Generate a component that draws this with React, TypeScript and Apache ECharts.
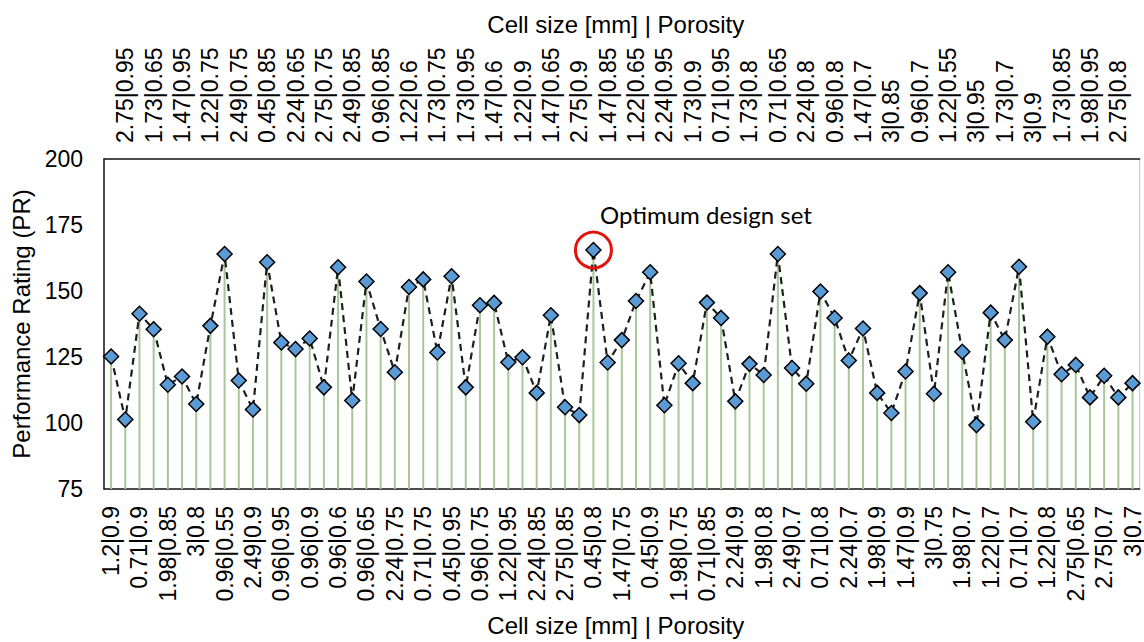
import React, { useEffect, useRef } from "react";
import * as echarts from "echarts";

const categories: string[] = [
  "1.2|0.9", "2.75|0.95", "0.71|0.9", "1.73|0.65", "1.98|0.85", "1.47|0.95", "3|0.8", "1.22|0.75",
  "0.96|0.55", "2.49|0.75", "2.49|0.9", "0.45|0.85", "0.96|0.95", "2.24|0.65", "0.96|0.9", "2.75|0.75",
  "0.96|0.6", "2.49|0.85", "0.96|0.65", "0.96|0.85", "2.24|0.75", "1.22|0.6", "0.71|0.75", "1.73|0.75",
  "0.45|0.95", "1.73|0.95", "0.96|0.75", "1.47|0.6", "1.22|0.95", "1.22|0.9", "2.24|0.85", "1.47|0.65",
  "2.75|0.85", "2.75|0.9", "0.45|0.8", "1.47|0.85", "1.47|0.75", "1.22|0.65", "0.45|0.9", "2.24|0.95",
  "1.98|0.75", "1.73|0.9", "0.71|0.85", "0.71|0.95", "2.24|0.9", "1.73|0.8", "1.98|0.8", "0.71|0.65",
  "2.49|0.7", "2.24|0.8", "0.71|0.8", "0.96|0.8", "2.24|0.7", "1.47|0.7", "1.98|0.9", "3|0.85",
  "1.47|0.9", "0.96|0.7", "3|0.75", "1.22|0.55", "1.98|0.7", "3|0.95", "1.22|0.7", "1.73|0.7",
  "0.71|0.7", "3|0.9", "1.22|0.8", "1.73|0.85", "2.75|0.65", "1.98|0.95", "2.75|0.7", "2.75|0.8",
  "3|0.7",
];

const performanceRating: number[] = [
  125.2, 101.3, 141.4, 135.5, 114.5, 117.6, 107.2, 136.8,
  164.0, 116.1, 105.1, 160.9, 130.5, 128.0, 132.0, 113.5,
  159.0, 108.5, 153.6, 135.6, 119.2, 151.5, 154.4, 126.7,
  155.6, 113.5, 144.6, 145.5, 123.0, 124.9, 111.4, 140.8,
  106.0, 103.0, 165.5, 122.9, 131.4, 146.2, 157.1, 106.7,
  122.6, 115.1, 145.6, 139.8, 108.2, 122.4, 118.2, 164.0,
  120.8, 114.9, 149.8, 139.8, 123.7, 135.8, 111.4, 103.8,
  119.5, 149.2, 111.1, 157.1, 127.0, 99.2, 141.8, 131.4,
  159.2, 100.5, 132.7, 118.5, 122.0, 109.7, 117.9, 109.7,
  115.1,
];

const yTicks = { min: 75, max: 200, interval: 25 };
const optimumIndex = 34;
const optimumLabel = "Optimum design set";
const axisTitle = "Cell size [mm] | Porosity";
const yTitle = "Performance Rating (PR)";

const FONT = "'Liberation Sans', Arial, sans-serif";

export default function App() {
  const ref = useRef<HTMLDivElement>(null);
  useEffect(() => {
    if (!ref.current) return;
    const chart = echarts.init(ref.current, null, { renderer: "svg" });
    const labelStyle = { fontSize: 23, color: "#000", fontFamily: FONT };
    const titleStyle = { fontSize: 24, color: "#000", fontFamily: FONT, padding: [0, 12, 0, 0] };
    chart.setOption({
      animation: false,
      backgroundColor: "#fff",
      grid: { left: 104, right: 1, top: 159, height: 333, show: true, borderColor: "#c8c8c8", borderWidth: 1 },
      xAxis: [
        {
          type: "category",
          data: categories,
          position: "bottom",
          boundaryGap: true,
          axisLine: { show: true, lineStyle: { color: "#1a1a1a", width: 1.5 } },
          axisTick: { show: false },
          axisLabel: {
            ...labelStyle,
            rotate: 90,
            margin: 17,
            align: "right",
            verticalAlign: "middle",
            interval: (i: number) => i % 2 === 0,
          },
          name: axisTitle,
          nameLocation: "middle",
          nameGap: 124,
          nameTextStyle: titleStyle,
        },
        {
          type: "category",
          data: categories,
          position: "top",
          boundaryGap: true,
          axisLine: { show: true, lineStyle: { color: "#1a1a1a", width: 1.5 } },
          axisTick: { show: false },
          axisLabel: {
            ...labelStyle,
            rotate: -90,
            margin: 16,
            align: "left",
            verticalAlign: "middle",
            interval: (i: number) => i % 2 === 1,
          },
          name: axisTitle,
          nameLocation: "middle",
          nameGap: 123,
          nameTextStyle: titleStyle,
        },
      ],
      yAxis: {
        type: "value",
        min: yTicks.min,
        max: yTicks.max,
        interval: yTicks.interval,
        axisLine: { show: true, lineStyle: { color: "#1a1a1a", width: 1.5 } },
        axisTick: { show: false },
        splitLine: { show: false },
        axisLabel: { ...labelStyle, margin: 21 },
        name: yTitle,
        nameLocation: "middle",
        nameGap: 68,
        nameTextStyle: { fontSize: 24, color: "#000", fontFamily: FONT },
      },
      series: [
        {
          type: "bar",
          data: performanceRating,
          barWidth: 2,
          itemStyle: { color: "#a8c697" },
          silent: true,
          z: 1,
        },
        {
          type: "line",
          data: performanceRating,
          symbol: "diamond",
          symbolSize: 15,
          showAllSymbol: true,
          z: 3,
          lineStyle: { color: "#1e1e1e", width: 2.2, type: [7, 5] },
          itemStyle: { color: "#5b9bd5", borderColor: "#000", borderWidth: 1.5 },
          markPoint: {
            silent: true,
            data: [
              {
                coord: [optimumIndex, performanceRating[optimumIndex]],
                symbol: "circle",
                symbolSize: 36,
                itemStyle: { color: "rgba(0,0,0,0)", borderColor: "#e3120b", borderWidth: 3 },
                label: {
                  show: true,
                  formatter: optimumLabel,
                  position: [26, -16],
                  align: "left",
                  verticalAlign: "middle",
                  fontSize: 24,
                  color: "#000",
                  fontFamily: "Lato, 'Open Sans', sans-serif",
                },
              },
            ],
          },
        },
      ],
    });
    return () => chart.dispose();
  }, []);
  return (
    <div
      ref={ref}
      style={{ position: "fixed", left: 0, top: 0, width: 1144, height: 642, background: "#fff" }}
    />
  );
}
